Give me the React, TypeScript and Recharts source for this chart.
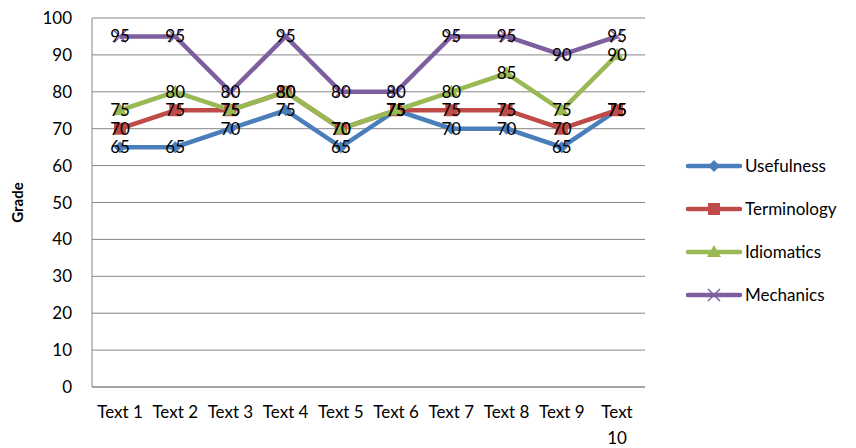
import React from 'react';
import { LineChart, Line, XAxis, YAxis, CartesianGrid, LabelList, Text } from 'recharts';

const texts = ['Text 1', 'Text 2', 'Text 3', 'Text 4', 'Text 5', 'Text 6', 'Text 7', 'Text 8', 'Text 9', 'Text 10'];
const usefulness = [65, 65, 70, 75, 65, 75, 70, 70, 65, 75];
const terminology = [70, 75, 75, 80, 70, 75, 75, 75, 70, 75];
const idiomatics = [75, 80, 75, 80, 70, 75, 80, 85, 75, 90];
const mechanics = [95, 95, 80, 95, 80, 80, 95, 95, 90, 95];
const gradeTicks = [0, 10, 20, 30, 40, 50, 60, 70, 80, 90, 100];

const FONT = 'Lato, "Open Sans", sans-serif';
const FS = 17;

const series = [
  { key: 'Usefulness', color: '#4a7ebb', shape: 'diamond' },
  { key: 'Terminology', color: '#be4b48', shape: 'square' },
  { key: 'Idiomatics', color: '#98b954', shape: 'triangle' },
  { key: 'Mechanics', color: '#7d5fa0', shape: 'x' },
];

const data = texts.map((name, i) => ({
  name,
  Usefulness: usefulness[i],
  Terminology: terminology[i],
  Idiomatics: idiomatics[i],
  Mechanics: mechanics[i],
}));

const Marker = ({ cx, cy, shape, color }: { cx: number; cy: number; shape: string; color: string }) => {
  if (cx == null || cy == null) return null;
  if (shape === 'diamond') {
    return <polygon points={`${cx},${cy - 6} ${cx + 6},${cy} ${cx},${cy + 6} ${cx - 6},${cy}`} fill={color} />;
  }
  if (shape === 'square') {
    return <rect x={cx - 6} y={cy - 6} width={12} height={12} fill={color} />;
  }
  if (shape === 'triangle') {
    return <polygon points={`${cx},${cy - 7} ${cx + 7},${cy + 5} ${cx - 7},${cy + 5}`} fill={color} />;
  }
  return (
    <g stroke={color} strokeWidth={1.5}>
      <line x1={cx - 6} y1={cy - 6} x2={cx + 6} y2={cy + 6} />
      <line x1={cx - 6} y1={cy + 6} x2={cx + 6} y2={cy - 6} />
    </g>
  );
};

const XTick = (props: any) => {
  const { x, y, payload } = props;
  return (
    <Text
      x={x}
      y={y + 11}
      width={52}
      textAnchor="middle"
      verticalAnchor="start"
      lineHeight="26px"
      style={{ fontSize: FS, fontFamily: FONT, fill: '#000' }}
    >
      {payload.value}
    </Text>
  );
};

const LegendBox = () => (
  <div style={{ position: 'absolute', left: 677, top: 136, width: 170, fontFamily: FONT, fontSize: FS, color: '#000' }}>
    {series.map((s) => (
      <div key={s.key} style={{ display: 'flex', alignItems: 'center', height: 43 }}>
        <svg width={60} height={20}>
          <line x1={3} y1={10} x2={55} y2={10} stroke={s.color} strokeWidth={4.5} strokeLinecap="round" />
          <Marker cx={29} cy={10} shape={s.shape} color={s.color} />
        </svg>
        <span>{s.key}</span>
      </div>
    ))}
  </div>
);

export default function App() {
  return (
    <div style={{ position: 'relative', width: 848, height: 440 }}>
      <LineChart width={848} height={440} data={data} margin={{ top: 10, right: 211, bottom: 0, left: 0 }} style={{ overflow: 'visible' }}>
        <CartesianGrid vertical={false} stroke="#868686" />
        <XAxis
          dataKey="name"
          tick={<XTick />}
          tickLine={false}
          axisLine={{ stroke: '#868686' }}
          interval={0}
          height={61}
          padding={{ left: 28, right: 28 }}
        />
        <YAxis
          domain={[0, 100]}
          ticks={gradeTicks}
          interval={0}
          width={84}
          tickSize={6}
          tickMargin={14}
          tickLine={false}
          axisLine={{ stroke: '#868686' }}
          tick={{ fontSize: FS, fontFamily: FONT, fill: '#000' }}
          label={{
            value: 'Grade',
            angle: -90,
            position: 'insideLeft',
            offset: 10,
            style: { textAnchor: 'middle', fontSize: 15, fontWeight: 'bold', fontFamily: FONT, fill: '#000' },
          }}
        />
        {series.map((s) => (
          <Line
            key={s.key}
            dataKey={s.key}
            stroke={s.color}
            strokeWidth={4.5}
            isAnimationActive={false}
            dot={(p: any) => <Marker key={`${s.key}-${p.index}`} cx={p.cx} cy={p.cy} shape={s.shape} color={s.color} />}
            activeDot={false}
          >
            <LabelList
              dataKey={s.key}
              position="center"
              style={{ fontSize: FS, fontFamily: FONT, fill: '#000' }}
            />
          </Line>
        ))}
      </LineChart>
      <LegendBox />
    </div>
  );
}
